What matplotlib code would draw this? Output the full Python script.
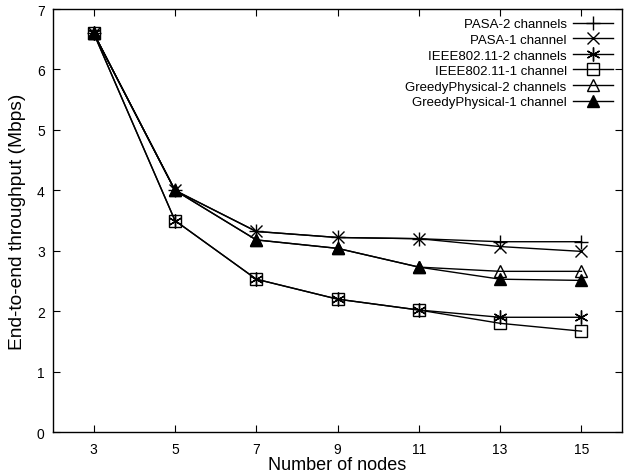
import matplotlib
matplotlib.use('Agg')
import matplotlib.pyplot as plt

plt.rcParams['font.family'] = ['Liberation Sans', 'DejaVu Sans']

nodes = [3, 5, 7, 9, 11, 13, 15]
pasa_2ch = [6.6, 4.0, 3.32, 3.22, 3.20, 3.15, 3.15]
pasa_1ch = [6.6, 4.0, 3.32, 3.22, 3.20, 3.07, 2.99]
ieee_2ch = [6.6, 3.5, 2.53, 2.20, 2.02, 1.90, 1.90]
ieee_1ch = [6.6, 3.5, 2.53, 2.20, 2.02, 1.80, 1.67]
greedy_2ch = [6.6, 4.0, 3.18, 3.04, 2.73, 2.66, 2.66]
greedy_1ch = [6.6, 4.0, 3.18, 3.04, 2.73, 2.53, 2.51]

series = [
    ("PASA-2 channels", pasa_2ch, dict(marker="+", markersize=10, mew=1.0, mfc="none")),
    ("PASA-1 channel", pasa_1ch, dict(marker="x", markersize=9, mew=1.0, mfc="none")),
    ("IEEE802.11-2 channels", ieee_2ch, dict(marker=(6, 2, 0), markersize=10, mew=1.0, mfc="none")),
    ("IEEE802.11-1 channel", ieee_1ch, dict(marker="s", markersize=8, mew=1.0, mfc="none")),
    ("GreedyPhysical-2 channels", greedy_2ch, dict(marker="^", markersize=8, mew=1.0, mfc="none")),
    ("GreedyPhysical-1 channel", greedy_1ch, dict(marker="^", markersize=8, mew=1.0, mfc="black")),
]

fig = plt.figure(figsize=(6.24, 4.77), dpi=100)
ax = fig.add_axes([0.085, 0.092, 0.912, 0.887])

for label, vals, style in series:
    ax.plot(nodes, vals, color="black", linewidth=1.0, mec="black", label=label, **style)

ax.set_xlim(2, 16)
ax.set_ylim(0, 7)
ax.set_xticks(nodes)
ax.set_yticks(range(0, 8))
ax.tick_params(direction="in", top=True, right=True, length=5, labelsize=10)
ax.tick_params(axis="x", pad=7)
ax.tick_params(axis="y", pad=6)
ax.set_xlabel("Number of nodes", fontsize=13, labelpad=0)
ax.set_ylabel("End-to-end throughput (Mbps)", fontsize=13.8, labelpad=8)
for s in ax.spines.values():
    s.set_linewidth(1.0)

ax.legend(loc="upper right", frameon=False, markerfirst=False, fontsize=9.5,
          handlelength=3.0, labelspacing=0.25, borderaxespad=0.3, handletextpad=0.5)

plt.savefig("out.png", dpi=100)
plt.close()
